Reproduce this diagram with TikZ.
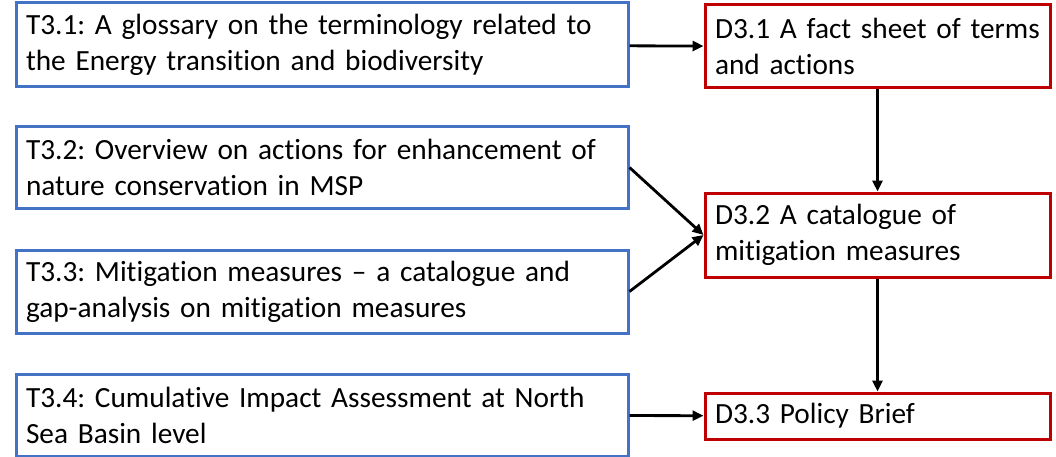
\documentclass[tikz,border=0pt]{standalone}
\usepackage{fontspec}
\setmainfont[Ligatures=NoCommon]{Carlito}
\usetikzlibrary{arrows.meta}
\definecolor{taskblue}{HTML}{4472C4}
\definecolor{delivred}{HTML}{C00000}
\tikzset{
  task/.style={draw=taskblue, line width=3pt, text width=592pt, inner xsep=10pt,
    inner ysep=0pt, align=left, font=\fontsize{29.3}{36}\selectfont\frenchspacing},
  deliv/.style={draw=delivred, line width=3pt, text width=331pt, inner xsep=7pt,
    inner ysep=0pt, align=left, font=\fontsize{29.3}{36}\selectfont\frenchspacing},
  link/.style={line width=2.8pt, -{Triangle[length=11pt,width=10pt]}},
}
\begin{document}
\begin{tikzpicture}[x=1pt, y=-1pt]
\useasboundingbox (0,0) rectangle (1056,457);

% tasks
\node[task, minimum height=84pt] (t31) at (322,45) {T3.1: A glossary on the terminology related to\\the Energy transition and biodiversity};
\node[task, minimum height=82pt] (t32) at (322,167.5) {T3.2: Overview on actions for enhancement of\\nature conservation in MSP};
\node[task, minimum height=83pt] (t33) at (322,291.5) {T3.3: Mitigation measures -- a catalogue and\\gap-analysis on mitigation measures};
\node[task, minimum height=82pt] (t34) at (322,415) {T3.4: Cumulative Impact Assessment at North\\Sea Basin level};

% deliverables
\node[deliv, minimum height=83pt] (d31) at (877.5,46.5) {\hspace*{3pt}D3.1 A fact sheet of terms\\\hspace*{3pt}and actions};
\node[deliv, minimum height=84pt] (d32) at (877.5,235) {\hspace*{3pt}D3.2 A catalogue of\\\hspace*{3pt}mitigation measures};
\node[deliv, minimum height=46pt] (d33) at (877.5,416) {\hspace*{3pt}D3.3 Policy Brief};

% links
\draw[link] (t31) -- (d31);
\draw[link] (t32.east) -- (d32.west);
\draw[link] (t33.east) -- (d32.west);
\draw[link] (t34) -- (d33);
\draw[link] (d31) -- (d32);
\draw[link] (d32) -- (d33);

\end{tikzpicture}
\end{document}
